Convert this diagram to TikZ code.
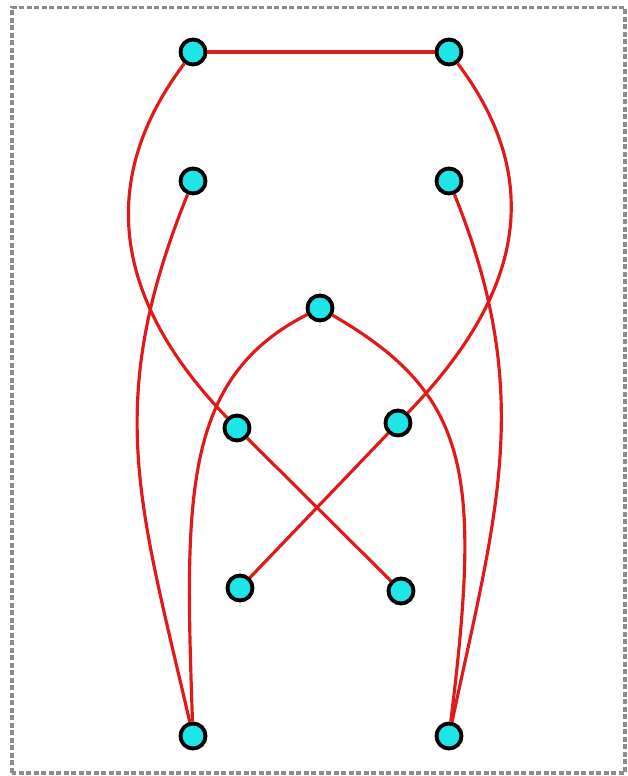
\documentclass[tikz,border=0pt]{standalone}
\definecolor{dotcyan}{RGB}{30,230,230}
\definecolor{wirered}{RGB}{225,25,25}
\begin{document}
\begin{tikzpicture}[
  dot/.style={circle,draw=black,line width=2.2pt,fill=dotcyan,minimum size=0.5cm,inner sep=0pt},
  wire/.style={draw=wirered,line width=1.8pt}]
\useasboundingbox (0,0) rectangle (12.56,15.52);
\draw[black!45,line width=2pt,dash pattern=on 0.1cm off 0.05cm] (0.24,0.06) rectangle (12.50,15.37);
\node[dot] (A) at (3.86,14.48) {}; \node[dot] (B) at (8.98,14.48) {};
\node[dot] (C) at (3.86,11.90) {}; \node[dot] (D) at (8.98,11.90) {};
\node[dot] (E) at (6.40,9.36) {};
\node[dot] (F) at (4.74,6.96) {}; \node[dot] (G) at (7.96,7.06) {};
\node[dot] (H) at (4.80,3.76) {}; \node[dot] (I) at (8.02,3.70) {};
\node[dot] (J) at (3.86,0.80) {}; \node[dot] (K) at (8.98,0.80) {};
\draw[wire] (A) -- (B);
\draw[wire] (A) to[out=233,in=134,out distance=3.3cm,in distance=2.8cm] (F);
\draw[wire] (B) to[out=-53,in=46,out distance=3.3cm,in distance=2.8cm] (G);
\draw[wire] (C) to[out=248,in=103,out distance=4.5cm,in distance=4.5cm] (J);
\draw[wire] (D) to[out=-68,in=78,out distance=4.3cm,in distance=4.3cm] (K);
\draw[wire] (E) to[out=207,in=92,out distance=2.8cm,in distance=4.5cm] (J);
\draw[wire] (E) to[out=-30,in=83,out distance=3.2cm,in distance=5cm] (K);
\draw[wire] (F) -- (I); \draw[wire] (G) -- (H);
\end{tikzpicture}
\end{document}
